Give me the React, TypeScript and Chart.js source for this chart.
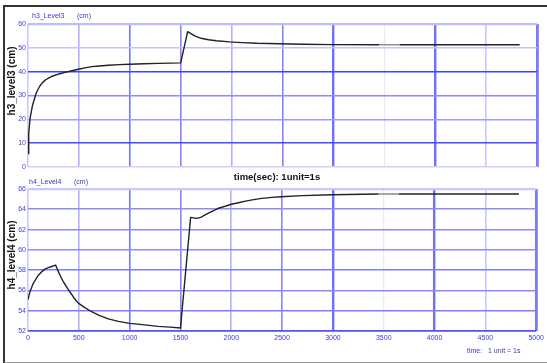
import React, { useEffect, useRef } from "react";
import { Chart, registerables } from "chart.js";

Chart.register(...registerables);

// Time axis (seconds)
const timeMin = 0;
const timeMax = 5000;
const timeStep = 500;

// h3 tank level (cm)
const h3Time = [0, 7, 20, 43, 75, 95, 118, 145, 174, 210, 249, 300, 364, 430, 495, 560, 626, 700, 790, 900, 1000, 1140, 1280, 1400, 1500,
  1568, 1600, 1643, 1700, 1774, 1850, 1980, 2100, 2250, 2470, 2700, 2990, 3450, 3650, 4830];
const h3Level = [5.6, 14, 20.4, 25.6, 30.3, 32.3, 34.1, 35.5, 36.6, 37.5, 38.3, 39.0, 39.7, 40.4, 41.0, 41.6, 42.1, 42.4, 42.7, 42.95, 43.1, 43.3, 43.5, 43.6, 43.7,
  56.8, 56.0, 54.9, 54.0, 53.4, 53.0, 52.5, 52.2, 51.9, 51.7, 51.5, 51.35, 51.3, 51.3, 51.3];
const h3Min = 0;
const h3Max = 60;
const h3Step = 10;

// h4 tank level (cm)
const h4Time = [0, 20, 52, 102, 135, 167, 200, 233, 272, 290, 315, 340, 364, 395, 430, 460, 495, 560, 626, 700, 790, 890, 1000, 1150, 1280, 1400, 1500,
  1600, 1660, 1700, 1742, 1800, 1873, 1940, 2000, 2070, 2140, 2220, 2300, 2400, 2490, 2700, 2990, 3450, 3650, 4830];
const h4Level = [55.1, 55.9, 56.7, 57.5, 57.85, 58.1, 58.25, 58.36, 58.5, 58.05, 57.5, 57.0, 56.6, 56.1, 55.6, 55.15, 54.75, 54.3, 53.9, 53.55, 53.2, 52.95, 52.75, 52.6, 52.46, 52.38, 52.3,
  63.2, 63.1, 63.2, 63.44, 63.75, 64.1, 64.3, 64.5, 64.65, 64.8, 64.95, 65.08, 65.17, 65.24, 65.35, 65.44, 65.5, 65.5, 65.5];
const h4Min = 52;
const h4Max = 66;
const h4Step = 2;

// Grid line styling per tick value
const xGridColor: Record<number, string> = {
  0: "#c8c8ff", 500: "#b0b0ff", 1000: "#7676ff", 1500: "#8484ff", 2000: "#b0b0ff",
  2500: "#8484ff", 3000: "#7070ff", 3500: "#e8e8ff", 4000: "#7070ff", 4500: "#c8c8ff", 5000: "#7a7aff",
};
const xGridWidth: Record<number, number> = { 3000: 2.4, 4000: 2.4, 5000: 2.8, 3500: 1.2 };
const h3GridColor: Record<number, string> = {
  0: "#cfcfff", 10: "#4848ff", 20: "#9a9aff", 30: "#8c8cff", 40: "#4040ff", 50: "#c4c4ff", 60: "#bcbcff",
};
const h3GridWidth: Record<number, number> = { 60: 2.2 };
const h4GridColor: Record<number, string> = {
  52: "#5050ff", 54: "#7c7cff", 56: "#8888ff", 58: "#7c7cff", 60: "#8c8cff", 62: "#8888ff", 64: "#8c8cff", 66: "#c8c8ff",
};
const h4GridWidth: Record<number, number> = { 52: 1.8, 66: 2.2 };
const GRID_WIDTH = 1.6;

const FONT = '"Liberation Sans", Arial, sans-serif';
const TICK_BLUE = "#3c3cdc";
const W = 547;
const H = 363;

type TextSpec = { text: string; x: number; y: number; font: string; color: string; align?: CanvasTextAlign; rotate?: boolean };

function textPlugin(id: string, items: TextSpec[]) {
  return {
    id,
    afterDraw(chart: Chart) {
      const ctx = chart.ctx;
      for (const it of items) {
        ctx.save();
        ctx.font = it.font;
        ctx.fillStyle = it.color;
        ctx.textBaseline = "middle";
        ctx.textAlign = it.align || "left";
        if (it.rotate) {
          ctx.translate(it.x, it.y);
          ctx.rotate(-Math.PI / 2);
          ctx.fillText(it.text, 0, 0);
        } else {
          ctx.fillText(it.text, it.x, it.y);
        }
        ctx.restore();
      }
    },
  };
}

function lineDataset(times: number[], values: number[]) {
  return {
    data: times.map((t, i) => ({ x: t, y: values[i] })),
    borderColor: "#222222",
    borderWidth: 1.4,
    pointRadius: 0,
    tension: 0,
    borderJoinStyle: "round",
    segment: {
      borderColor: (c: any) => (c.p0.parsed.x >= 3450 && c.p1.parsed.x <= 3650 ? "#8a8a8a" : undefined),
    },
  };
}

function makeConfig(opts: {
  times: number[]; values: number[]; yMin: number; yMax: number; yStep: number;
  yColor: Record<number, string>; yWidth: Record<number, number>;
  padTop: number; padBottom: number; xHeight: number; showX: boolean; texts: TextSpec[]; id: string;
}): any {
  return {
    type: "line",
    data: { datasets: [lineDataset(opts.times, opts.values)] },
    options: {
      responsive: false,
      animation: false,
      events: [],
      devicePixelRatio: 1,
      layout: { padding: { left: 0, right: 10, top: opts.padTop, bottom: opts.padBottom } },
      plugins: { legend: { display: false }, tooltip: { enabled: false }, title: { display: false } },
      scales: {
        x: {
          type: "linear",
          min: timeMin,
          max: timeMax,
          border: { display: false },
          afterFit: (a: any) => { a.height = opts.xHeight; },
          grid: {
            drawTicks: false,
            color: (c: any) => xGridColor[c.tick?.value] || "#b0b0ff",
            lineWidth: (c: any) => xGridWidth[c.tick?.value] || GRID_WIDTH,
          },
          ticks: {
            display: opts.showX,
            stepSize: timeStep,
            padding: 3,
            color: TICK_BLUE,
            font: { family: FONT, size: 7 },
            maxRotation: 0,
            autoSkip: false,
            callback: (v: any) => String(v),
          },
        },
        y: {
          min: opts.yMin,
          max: opts.yMax,
          border: { display: false },
          afterFit: (a: any) => { a.width = 28; },
          grid: {
            drawTicks: false,
            color: (c: any) => opts.yColor[c.tick?.value] || "#8888ff",
            lineWidth: (c: any) => opts.yWidth[c.tick?.value] || GRID_WIDTH,
          },
          ticks: {
            stepSize: opts.yStep,
            padding: 2,
            color: TICK_BLUE,
            font: { family: FONT, size: 7 },
            callback: (v: any) => String(v),
          },
        },
      },
    },
    plugins: [textPlugin(opts.id, opts.texts)],
  };
}

export default function App() {
  const topRef = useRef<HTMLCanvasElement>(null);
  const bottomRef = useRef<HTMLCanvasElement>(null);

  useEffect(() => {
    const small = `7px ${FONT}`;
    const top = new Chart(
      topRef.current!,
      makeConfig({
        id: "h3Text",
        times: h3Time, values: h3Level, yMin: h3Min, yMax: h3Max, yStep: h3Step,
        yColor: h3GridColor, yWidth: h3GridWidth,
        padTop: 24, padBottom: 196, xHeight: 0, showX: false,
        texts: [
          { text: "h3_Level3", x: 32, y: 16, font: small, color: "#3a3acc" },
          { text: "(cm)", x: 77, y: 16, font: small, color: "#3a3acc" },
          { text: "h3_level3 (cm)", x: 12, y: 81, font: `bold 10px ${FONT}`, color: "#111", align: "center", rotate: true },
          { text: "time(sec): 1unit=1s", x: 277, y: 177, font: `bold 9.5px ${FONT}`, color: "#111", align: "center" },
        ],
      })
    );
    const bottom = new Chart(
      bottomRef.current!,
      makeConfig({
        id: "h4Text",
        times: h4Time, values: h4Level, yMin: h4Min, yMax: h4Max, yStep: h4Step,
        yColor: h4GridColor, yWidth: h4GridWidth,
        padTop: 189, padBottom: 0, xHeight: 32, showX: true,
        texts: [
          { text: "h4_Level4", x: 29, y: 182, font: small, color: "#3a3acc" },
          { text: "(cm)", x: 74, y: 182, font: small, color: "#3a3acc" },
          { text: "h4_level4 (cm)", x: 12, y: 255, font: `bold 10px ${FONT}`, color: "#111", align: "center", rotate: true },
          { text: "time:   1 unit = 1s", x: 467, y: 351, font: small, color: "#3a3acc" },
        ],
      })
    );
    return () => {
      top.destroy();
      bottom.destroy();
    };
  }, []);

  return (
    <div style={{ position: "fixed", left: 0, top: 0, width: W, height: H, background: "#fff", overflow: "hidden" }}>
      <div
        style={{
          position: "absolute", left: 3, top: 5, width: W + 10, height: 355,
          borderLeft: "2px solid #333", borderTop: "2px solid #333", borderBottom: "2px solid #9a9a9a",
          boxSizing: "content-box",
        }}
      />
      <canvas ref={topRef} width={W} height={H} style={{ position: "absolute", left: 0, top: 0, width: W, height: H }} />
      <canvas ref={bottomRef} width={W} height={H} style={{ position: "absolute", left: 0, top: 0, width: W, height: H }} />
    </div>
  );
}
